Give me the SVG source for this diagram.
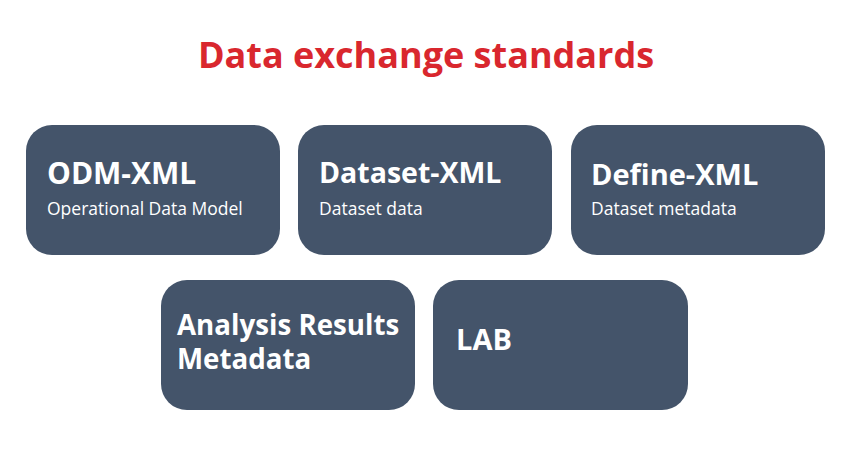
<svg xmlns="http://www.w3.org/2000/svg" width="850" height="450" viewBox="0 0 850 450">
<style>
.box{fill:#44546A}
.t{font-family:"Open Sans","Noto Sans",sans-serif;font-weight:700;font-size:29px;fill:#fff}
.s{font-family:"Open Sans","Noto Sans",sans-serif;font-size:17.5px;fill:#fff}
.title{font-family:"Open Sans","Noto Sans",sans-serif;font-weight:700;font-size:36px;fill:#D9272E}
</style>
<rect width="850" height="450" fill="#fff"/>
<text class="title" x="426" y="68" text-anchor="middle">Data exchange standards</text>
<g id="odm"><rect class="box" x="26" y="125" width="254" height="130" rx="26"/><text class="t" x="47" y="184" style="font-size:30px">ODM-XML</text><text class="s" x="47" y="215">Operational Data Model</text></g>
<g id="dataset"><rect class="box" x="298" y="125" width="254" height="130" rx="26"/><text class="t" x="319" y="183" style="font-size:28.5px">Dataset-XML</text><text class="s" x="319" y="215">Dataset data</text></g>
<g id="define"><rect class="box" x="571" y="125" width="254" height="130" rx="26"/><text class="t" x="591" y="185">Define-XML</text><text class="s" x="591" y="215">Dataset metadata</text></g>
<g id="arm"><rect class="box" x="161" y="280" width="254" height="130" rx="26"/><text class="t" x="177" y="335" style="font-size:27.7px">Analysis Results</text><text class="t" x="177" y="369" style="font-size:27.7px">Metadata</text></g>
<g id="lab"><rect class="box" x="433" y="280" width="255" height="130" rx="26"/><text class="t" x="456" y="350">LAB</text></g>
<g id="connectors"/>
</svg>
